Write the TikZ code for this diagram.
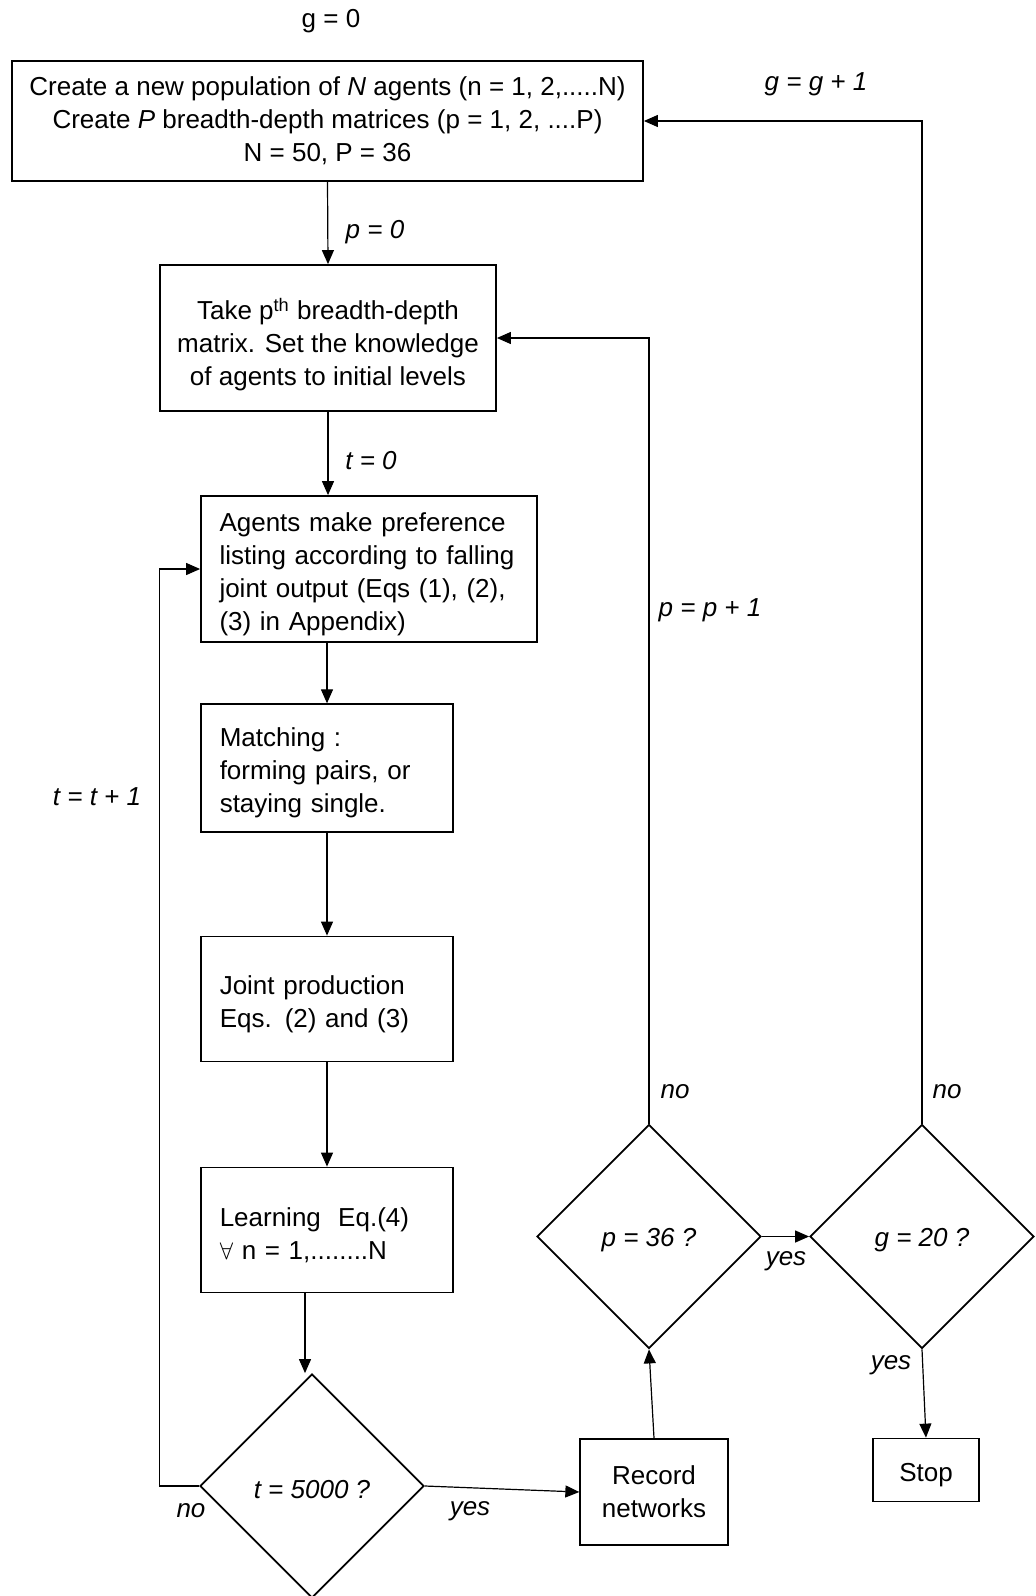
\documentclass[tikz,border=0pt]{standalone}
\usepackage{fontspec}
\setmainfont{Liberation Sans}
\usetikzlibrary{shapes.geometric,arrows.meta}

\begin{document}
\begin{tikzpicture}[x=0.5pt,y=-0.5pt,
		font=\fontsize{13}{16.5}\selectfont,
		box/.style={draw,line width=0.9pt,inner sep=0pt,
			execute at begin node={\rule{0pt}{14.5pt}}},
		lbox/.style={box,align=left,inner xsep=9.25pt},
		decision/.style={draw,diamond,aspect=1,line width=0.9pt,inner sep=0pt,
			minimum width=112pt,minimum height=112pt,font=\fontsize{13}{16.5}\selectfont\itshape,
			execute at begin node={\rule{0pt}{12.5pt}}},
		arr/.style={-{Triangle[length=7pt,width=6pt]},line width=0.6pt},
		lbl/.style={font=\fontsize{13}{16.5}\selectfont\itshape}]
		%%%%% START %%%%%
		\useasboundingbox (0,0) rectangle (1035,1596);
		
		\node (g0) at (331,21) {g = 0};
		\node[box,align=center,minimum width=315.5pt,minimum height=60pt] (create) at (327.5,121)
			{Create a new population of \textit{N} agents (n = 1, 2,.....N)\\
			 Create \textit{P} breadth-depth matrices (p = 1, 2, ....P)\\
			 N = 50, P = 36};
		
		\node[box,align=center,minimum width=168pt,minimum height=73pt] (take) at (328,338)
			{\rule{0pt}{17.5pt}Take p\textsuperscript{th} breadth-depth\\matrix. Set the knowledge\\of agents to initial levels};
		\node[lbox,text width=149.5pt,minimum height=73pt] (prefs) at (369,569)
			{Agents make preference\\listing according to falling\\joint output (Eqs (1), (2),\\(3) in Appendix)};
		\node[lbox,text width=107.25pt,minimum height=63.75pt] (match) at (327,768)
			{Matching :\\forming pairs, or\\staying single.};
		\node[lbox,text width=107.25pt,minimum height=62.5pt] (joint) at (327,999)
			{Joint production\\Eqs. (2) and (3)};
		\node[lbox,text width=107.25pt,minimum height=62.5pt] (learn) at (327,1230)
			{Learning~~Eq.(4)\\$\forall$ n = 1,........N};
		
		\node[decision] (tdec) at (312,1486) {t = 5000 ?};
		\node[box,align=center,minimum width=73.75pt,minimum height=53pt] (record) at (654,1492)
			{Record\\networks};
		\node[decision] (pdec) at (649,1236.5) {p = 36 ?};
		\node[decision] (gdec) at (922,1236.5) {g = 20 ?};
		\node[box,minimum width=53pt,minimum height=31.5pt] (stop) at (926,1470) {Stop};
		
		% main column
		\draw[arr] (create.south) -- (take.north);
		\draw[arr] (take.south) -- (take.south |- prefs.north);
		\draw[arr] (match.north |- prefs.south) -- (match.north);
		\draw[arr] (match) -- (joint);
		\draw[arr] (joint) -- (learn);
		\draw[arr] ([xshift=-3.5pt]tdec.north |- learn.south) -- ([xshift=-3.5pt]tdec.north);
		
		% t loop
		\draw[arr] (tdec.west) -- (tdec.west -| take.west) |- (prefs.west);
		\draw[arr] (tdec.east) -- (record.west);
		\draw[arr] (record.north) -- (pdec.south);
		
		% p loop
		\draw[arr] (pdec.north) |- (take.east);
		\draw[arr] (pdec.east) -- (gdec.west);
		
		% g loop
		\draw[arr] (gdec.north) |- (create.east);
		\draw[arr] (gdec.south) -- (stop.north);
		
		\node[lbl] (lp0) at (375,232) {p = 0};
		\node[lbl] (lt0) at (371,461) {t = 0};
		\node[lbl] (ltt) at (97,797) {t = t + 1};
		\node[lbl] (lno1) at (191,1511) {no};
		\node[lbl] (lyes1) at (470,1511) {yes};
		\node[lbl] (lno2) at (675,1092) {no};
		\node[lbl] (lpp) at (710,610) {p = p + 1};
		\node[lbl] (lyes2) at (786,1261) {yes};
		\node[lbl] (lno3) at (947,1092) {no};
		\node[lbl] (lgg) at (816,84) {g = g + 1};
		\node[lbl] (lyes3) at (891,1365) {yes};
		%%%%% END %%%%%
\end{tikzpicture}
\end{document}
